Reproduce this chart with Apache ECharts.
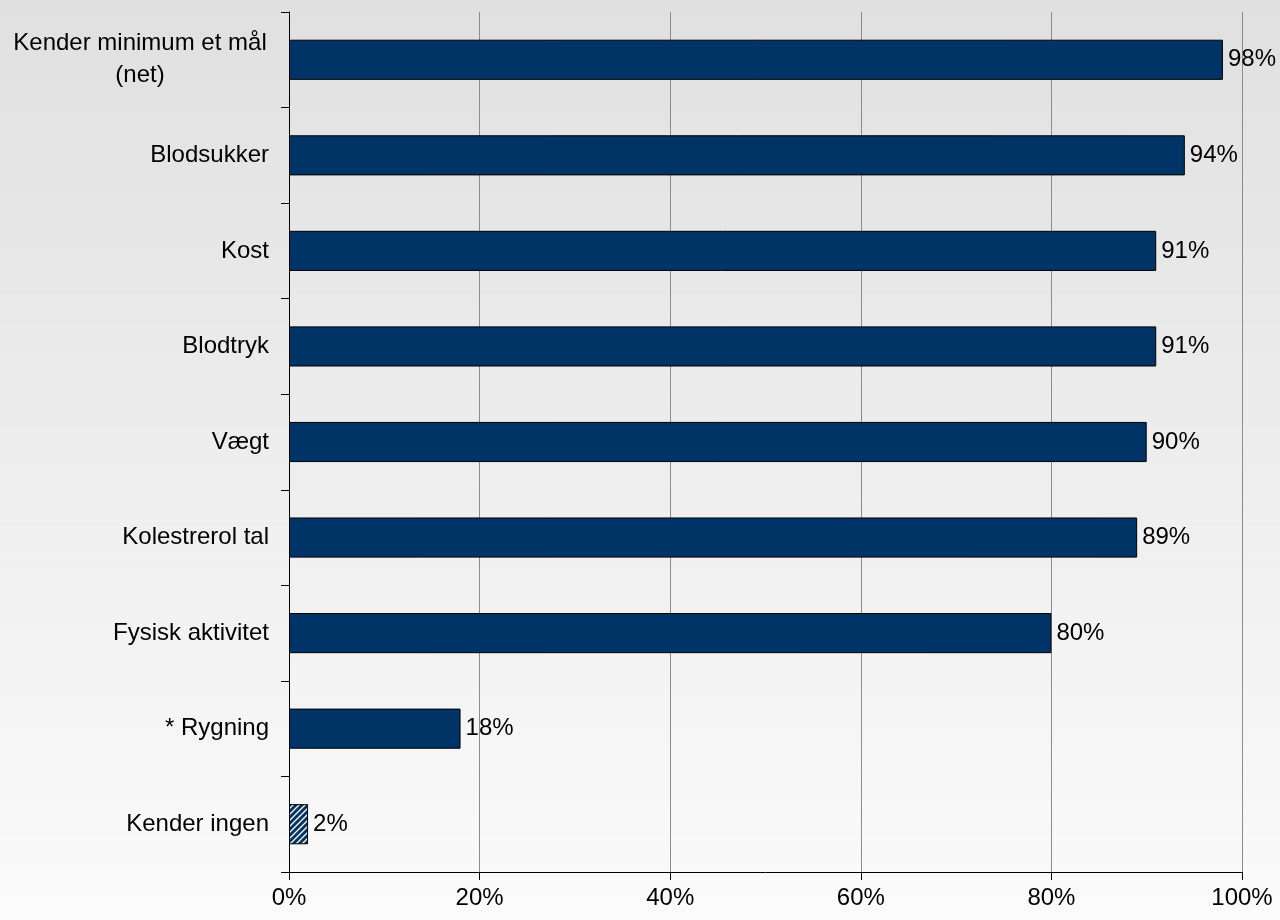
<!DOCTYPE html>
<html>
<head>
<meta charset="utf-8">
<script src="https://cdn.jsdelivr.net/npm/echarts@6/dist/echarts.min.js"></script>
<style>
  html, body { margin: 0; padding: 0; }
  #chart { width: 1280px; height: 920px; }
</style>
</head>
<body>
<div id="chart"></div>
<script>
// Categories listed top to bottom
const categories = [
  'Kender minimum et mål\n(net)',
  'Blodsukker',
  'Kost',
  'Blodtryk',
  'Vægt',
  'Kolestrerol tal',
  'Fysisk aktivitet',
  '* Rygning',
  'Kender ingen'
];
// Share of respondents, percent
const values = [98, 94, 91, 91, 90, 89, 80, 18, 2];
// Categories drawn with a hatched fill
const hatchedCategories = ['Kender ingen'];
const xTicks = [0, 20, 40, 60, 80, 100];

const NAVY = '#003366';
const FONT = '"Liberation Sans", Arial, sans-serif';

// Diagonal stripe pattern for the hatched bar
function makeHatch() {
  const c = document.createElement('canvas');
  c.width = 6; c.height = 6;
  const g = c.getContext('2d');
  g.fillStyle = NAVY;
  g.fillRect(0, 0, 6, 6);
  g.strokeStyle = '#ffffff';
  g.lineWidth = 1.3;
  g.beginPath();
  g.moveTo(-1, 7); g.lineTo(7, -1);
  g.moveTo(-4, 4); g.lineTo(4, -4);
  g.moveTo(2, 10); g.lineTo(10, 2);
  g.stroke();
  return c;
}
const hatch = { image: makeHatch(), repeat: 'repeat' };

const seriesData = categories.map((cat, i) => ({
  value: values[i],
  itemStyle: hatchedCategories.includes(cat) ? { color: hatch } : undefined
}));

const chart = echarts.init(document.getElementById('chart'));
chart.setOption({
  animation: false,
  backgroundColor: {
    type: 'linear', x: 0, y: 0, x2: 0, y2: 1,
    colorStops: [
      { offset: 0, color: '#e0e0e0' },
      { offset: 1, color: '#fbfbfb' }
    ]
  },
  grid: { left: 289, right: 38, top: 12, bottom: 48, containLabel: false },
  xAxis: {
    type: 'value',
    min: xTicks[0],
    max: xTicks[xTicks.length - 1],
    interval: 20,
    axisLine: { show: true, lineStyle: { color: '#000', width: 1 } },
    axisTick: { show: true, length: 8, lineStyle: { color: '#000' } },
    splitLine: { show: true, lineStyle: { color: '#8c8c8c', width: 1 } },
    axisLabel: {
      formatter: v => v + '%',
      color: '#000',
      fontSize: 24,
      fontFamily: FONT,
      margin: 14
    }
  },
  yAxis: {
    type: 'category',
    inverse: true,
    data: categories,
    axisLine: { show: true, lineStyle: { color: '#000', width: 1 } },
    axisTick: { show: true, length: 8, lineStyle: { color: '#000' } },
    splitLine: { show: false },
    axisLabel: {
      color: '#000',
      fontSize: 24,
      fontFamily: FONT,
      margin: 20,
      lineHeight: 32,
      formatter: v => v.indexOf('\n') >= 0
        ? v.split('\n').map(s => '{c|' + s + '}').join('\n')
        : v,
      rich: {
        c: { width: 258, align: 'center', fontSize: 24, fontFamily: FONT, color: '#000', lineHeight: 32 }
      }
    }
  },
  series: [{
    type: 'bar',
    data: seriesData,
    barWidth: '42%',
    itemStyle: { color: NAVY, borderColor: '#000', borderWidth: 1 },
    label: {
      show: true,
      position: 'right',
      distance: 5,
      formatter: p => p.value + '%',
      color: '#000',
      fontSize: 24,
      fontFamily: FONT
    }
  }]
});
</script>
</body>
</html>
